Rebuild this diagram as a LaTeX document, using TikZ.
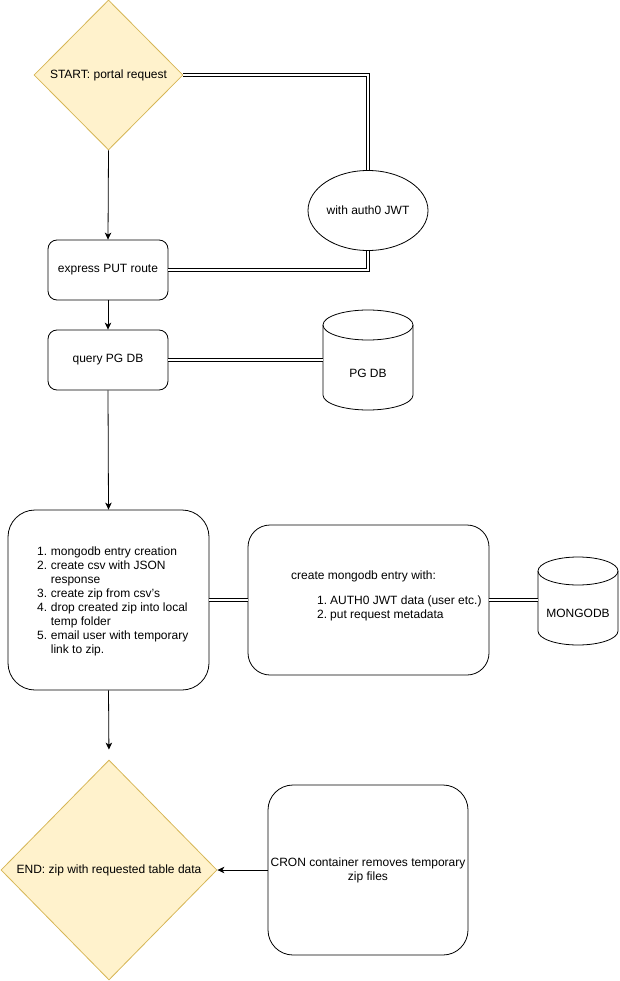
\documentclass[tikz,border=0pt]{standalone}
\usepackage{fontspec}
\setmainfont{Liberation Sans}
\usetikzlibrary{shapes.geometric,arrows.meta,calc}
\definecolor{dfill}{HTML}{FFF2CC}
\definecolor{dline}{HTML}{D6B656}
\begin{document}
\begin{tikzpicture}[x=1pt,y=-1pt,
  every node/.style={font=\fontsize{12}{14}\selectfont},
  dec/.style={diamond, aspect=1, draw=dline, fill=dfill, inner sep=0pt, line width=0.8pt},
  box/.style={rectangle, draw, rounded corners=#1, fill=white, line width=0.8pt, inner sep=0pt},
  oval/.style={ellipse, draw, fill=white, line width=0.8pt, inner sep=0pt},
  dbtext/.style={inner sep=0pt},
  txt/.style={inner sep=0pt, anchor=base west},
  arr/.style={-{Stealth[length=7pt,width=6.5pt,inset=2pt]}, line width=0.8pt},
  dbl/.style={draw, double, double distance=2.4pt, line width=0.8pt},
  cyl/.style={line width=0.8pt}
]
\useasboundingbox (0,0) rectangle (619,981);

% nodes
\node[dec, minimum width=149pt, minimum height=150pt] (start) at (108.5,75) {START: portal request};
\node[oval, minimum width=120pt, minimum height=80pt] (auth) at (368,210.5) {with auth0 JWT};
\node[box=9pt, minimum width=120pt, minimum height=60pt] (express) at (108,270) {express PUT route};
\node[box=9pt, minimum width=120pt, minimum height=60pt] (query) at (108,360) {query PG DB};
\node[dbtext, minimum width=90pt] (pgdb) at (368,373) {PG DB};
\node[box=27pt, minimum width=201pt, minimum height=180pt] (big) at (108.5,600) {};
\node[box=22pt, minimum width=241pt, minimum height=150pt] (mid) at (368.5,600) {};
\node[dbtext, minimum width=80pt] (mongo) at (578,613) {MONGODB};
\node[dec, minimum width=216pt, minimum height=220pt] (end) at (109,870) {END: zip with requested table data};
\node[box=25pt, minimum width=200pt, minimum height=170pt, align=center] (cron) at (368,870) {CRON container removes temporary\\zip files};

% texts inside boxes
\node[txt] (bigtext) at (37,555) {\parbox[t]{170pt}{%
\makebox[13.7pt][l]{1.}mongodb entry creation\\
\makebox[13.7pt][l]{2.}create csv with JSON\\
\hspace*{13.7pt}response\\
\makebox[13.7pt][l]{3.}create zip from csv's\\
\makebox[13.7pt][l]{4.}drop created zip into local\\
\hspace*{13.7pt}temp folder\\
\makebox[13.7pt][l]{5.}email user with temporary\\
\hspace*{13.7pt}link to zip.}};
\node[txt] (midtext) at (291,579) {\parbox[t]{200pt}{%
create mongodb entry with:\\[11pt]
\hspace*{26pt}\makebox[13pt][l]{1.}AUTH0 JWT data (user etc.)\\
\hspace*{26pt}\makebox[13pt][l]{2.}put request metadata}};

% cylinders
\draw[cyl] ($(pgdb.center)+(-45,-48)$) -- ($(pgdb.center)+(-45,22)$)
  arc[start angle=180, end angle=360, x radius=45pt, y radius=15pt]
  -- ($(pgdb.center)+(45,-48)$)
  arc[start angle=0, end angle=180, x radius=45pt, y radius=15pt] -- cycle;
\draw[cyl] ($(pgdb.center)+(-45,-48)$)
  arc[start angle=180, end angle=360, x radius=45pt, y radius=15pt];

\draw[cyl] ($(mongo.center)+(-40,-42)$) -- ($(mongo.center)+(-40,18)$)
  arc[start angle=180, end angle=360, x radius=40pt, y radius=14pt]
  -- ($(mongo.center)+(40,-42)$)
  arc[start angle=0, end angle=180, x radius=40pt, y radius=14pt] -- cycle;
\draw[cyl] ($(mongo.center)+(-40,-42)$)
  arc[start angle=180, end angle=360, x radius=40pt, y radius=14pt];

% connectors
\draw[arr] (start.south) -- (express.north);
\draw[arr] (express.south) -- (query.north);
\draw[arr] (query.south) -- (big.north);
\draw[arr, shorten >=10pt] (big.south) -- (end.north);
\draw[arr] (cron.west) -- (end.east);

\draw[dbl] (start.east) -| (auth.north);
\draw[dbl] (auth.south) |- (express.east);
\draw[dbl] (query.east) -- (query.east -| pgdb.west);
\draw[dbl] (big.east) -- (mid.west);
\draw[dbl] (mid.east) -- (mid.east -| mongo.west);
\end{tikzpicture}
\end{document}
